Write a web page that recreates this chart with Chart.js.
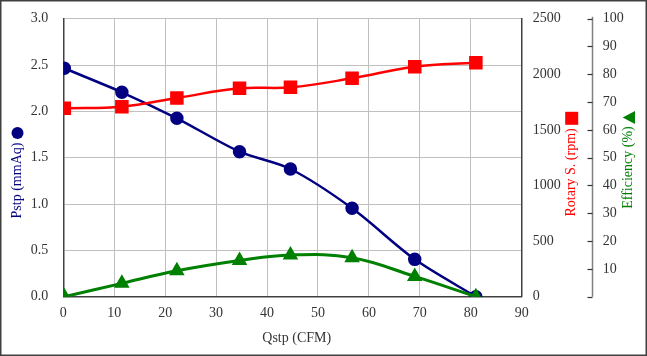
<!DOCTYPE html>
<html>
<head>
<meta charset="utf-8">
<script src="https://cdn.jsdelivr.net/npm/chart.js@4.4.1/dist/chart.umd.min.js"></script>
<style>
  html, body { margin: 0; padding: 0; background: #ffffff; }
  #wrap { width: 647px; height: 356px; position: relative; }
</style>
</head>
<body>
<div id="wrap"><canvas id="c" width="647" height="356"></canvas></div>
<script>
// ---- data ----
const flowCFM = [0.2, 11.5, 22.3, 34.6, 44.6, 56.7, 69.0, 81.0];
const pressureMmAq = [2.465, 2.206, 1.925, 1.565, 1.378, 0.954, 0.403, 0.0];
const rotaryRpm = [1694, 1709, 1787, 1874, 1883, 1964, 2068, 2104];
const efficiencyPct = [0, 4.8, 9.3, 13.0, 15.0, 14.0, 7.3, 0];
const xTicks = [0, 10, 20, 30, 40, 50, 60, 70, 80, 90];
const xTitle = 'Qstp (CFM)';
const yTitle = 'Pstp (mmAq)';
const y1Title = 'Rotary S. (rpm)';
const y2Title = 'Efficiency (%)';

const FONT = "'Liberation Serif', 'Times New Roman', serif";
const TICK_COLOR = '#333333';
const NAVY = '#000080';
const RED = '#ff0000';
const GREEN = '#008000';

function pts(xs, ys) { return xs.map((x, i) => ({ x: x, y: ys[i] })); }
function fitV(width) {
  return s => { s.width = width; s.paddingTop = 8; s.paddingBottom = 8; };
}

const decorPlugin = {
  id: 'decor',
  beforeDraw(chart) {
    const ctx = chart.ctx;
    ctx.save();
    ctx.fillStyle = '#ffffff';
    ctx.fillRect(0, 0, chart.width, chart.height);
    ctx.restore();
  },
  afterDraw(chart) {
    const ctx = chart.ctx;
    const y2 = chart.scales.y2;
    ctx.save();
    // efficiency axis line with inward tick marks
    const ax = Math.round(y2.left) + 0.5;
    ctx.strokeStyle = '#808080';
    ctx.lineWidth = 1.5;
    ctx.beginPath();
    ctx.moveTo(ax, y2.getPixelForValue(100) - 2);
    ctx.lineTo(ax, y2.getPixelForValue(0));
    ctx.stroke();
    ctx.strokeStyle = '#333333';
    ctx.lineWidth = 1.2;
    y2.ticks.forEach(t => {
      const py = Math.round(y2.getPixelForValue(t.value)) + 0.5;
      ctx.beginPath();
      ctx.moveTo(ax - 5, py);
      ctx.lineTo(ax, py);
      ctx.stroke();
    });

    ctx.font = '14px ' + FONT;
    ctx.textAlign = 'center';
    ctx.textBaseline = 'middle';

    // x title
    ctx.fillStyle = TICK_COLOR;
    ctx.fillText(xTitle, 296.7, 338);

    // left title + circle marker
    ctx.save();
    ctx.translate(17.5, 180.5);
    ctx.rotate(-Math.PI / 2);
    ctx.fillStyle = NAVY;
    ctx.fillText(yTitle, 0, 0);
    ctx.restore();
    ctx.fillStyle = NAVY;
    ctx.beginPath();
    ctx.arc(17.5, 133, 6, 0, Math.PI * 2);
    ctx.fill();

    // rpm title + square marker
    ctx.save();
    ctx.translate(571.7, 172.4);
    ctx.rotate(-Math.PI / 2);
    ctx.fillStyle = RED;
    ctx.fillText(y1Title, 0, 0);
    ctx.restore();
    ctx.fillStyle = RED;
    ctx.fillRect(565.2, 111.8, 13, 13);

    // efficiency title + triangle marker
    ctx.save();
    ctx.translate(628.3, 167.5);
    ctx.rotate(-Math.PI / 2);
    ctx.fillStyle = GREEN;
    ctx.fillText(y2Title, 0, 0);
    ctx.restore();
    ctx.fillStyle = GREEN;
    ctx.beginPath();
    ctx.moveTo(622.7, 117.5);
    ctx.lineTo(635, 111);
    ctx.lineTo(635, 124);
    ctx.closePath();
    ctx.fill();

    // outer frame
    ctx.strokeStyle = '#404040';
    ctx.lineWidth = 1.5;
    ctx.strokeRect(0.75, 0.75, chart.width - 1.5, chart.height - 1.5);
    ctx.restore();
  }
};

new Chart(document.getElementById('c'), {
  type: 'line',
  data: {
    datasets: [
      { label: 'Efficiency', data: pts(flowCFM, efficiencyPct), yAxisID: 'y2',
        borderColor: GREEN, backgroundColor: GREEN, borderWidth: 3, pointStyle: 'triangle', pointRadius: 6, tension: 0.4, order: 1 },
      { label: 'Rotary', data: pts(flowCFM, rotaryRpm), yAxisID: 'y1',
        borderColor: RED, backgroundColor: RED, borderWidth: 2.5, pointStyle: 'rect', pointRadius: 7.8, tension: 0.4, order: 2 },
      { label: 'Pstp', data: pts(flowCFM, pressureMmAq), yAxisID: 'y',
        borderColor: NAVY, backgroundColor: NAVY, borderWidth: 2.5, pointStyle: 'circle', pointRadius: 5.5, tension: 0.3, order: 3 }
    ]
  },
  options: {
    responsive: false, animation: false, devicePixelRatio: 1,
    layout: { autoPadding: false, padding: { top: 18.7, left: 0, right: 0, bottom: 0 } },
    plugins: { legend: { display: false }, tooltip: { enabled: false } },
    elements: { point: { borderWidth: 0 } },
    scales: {
      x: { type: 'linear', min: 0, max: 90,
        afterBuildTicks: s => { s.ticks = xTicks.map(v => ({ value: v })); },
        afterFit: s => { s.height = 59.3; s.paddingLeft = 0; s.paddingRight = 0; },
        grid: { color: '#c0c0c0', lineWidth: 1, drawTicks: false },
        border: { display: true, color: '#404040', width: 1.5 },
        ticks: { color: TICK_COLOR, font: { family: FONT, size: 14 }, padding: 8, maxRotation: 0 } },
      y: { position: 'left', min: 0, max: 3, afterFit: fitV(63.3),
        grid: { color: '#c0c0c0', lineWidth: 1, drawTicks: false },
        border: { display: true, color: '#404040', width: 1.5 },
        ticks: { stepSize: 0.5, color: TICK_COLOR, font: { family: FONT, size: 14 }, padding: 15, callback: v => Number(v).toFixed(1) } },
      y1: { position: 'right', min: 0, max: 2500, afterFit: fitV(70),
        grid: { display: false, drawTicks: false },
        border: { display: true, color: '#404040', width: 1.5 },
        ticks: { stepSize: 500, color: TICK_COLOR, font: { family: FONT, size: 14 }, padding: 11, callback: v => String(v) } },
      y2: { position: 'right', min: 0, max: 100, afterFit: fitV(55.3),
        grid: { display: false, drawTicks: false }, border: { display: false },
        ticks: { stepSize: 10, color: TICK_COLOR, font: { family: FONT, size: 14 }, padding: 11, callback: v => (v === 0 ? '' : String(v)) } }
    }
  },
  plugins: [decorPlugin]
});
</script>
</body>
</html>
